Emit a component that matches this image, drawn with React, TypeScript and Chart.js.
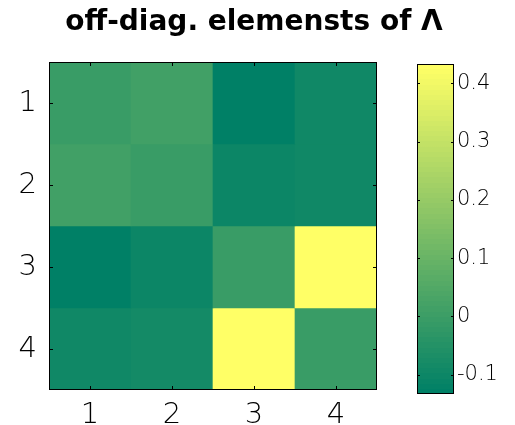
import React, { useEffect, useRef } from 'react';
import { Chart, registerables } from 'chart.js';

Chart.register(...registerables);

// ---- data ----
const titleText = 'off-diag. elemensts of Λ';
const columns = ['1', '2', '3', '4'];
const rowTicks = [1, 2, 3, 4];
const row1 = [-0.008, 0.014, -0.133, -0.095];
const row2 = [0.01, -0.003, -0.106, -0.09];
const row3 = [-0.133, -0.105, -0.003, 0.433];
const row4 = [-0.093, -0.08, 0.433, -0.006];
const rows = [row1, row2, row3, row4];
const colorbarTicks = [-0.1, 0, 0.1, 0.2, 0.3, 0.4];

const cMin = Math.min(...rows.flat());
const cMax = Math.max(...rows.flat());
const LEVELS = 64;

function summer(t: number): string {
  const r = Math.round(255 * t);
  const g = Math.round(255 * (0.5 + 0.5 * t));
  return `rgb(${r},${g},102)`;
}

function colorFor(v: number): string {
  let idx = Math.floor(((v - cMin) / (cMax - cMin)) * LEVELS);
  if (idx >= LEVELS) idx = LEVELS - 1;
  if (idx < 0) idx = 0;
  return summer(idx / (LEVELS - 1));
}

const frameTicksPlugin = {
  id: 'frameTicks',
  afterDraw(chart: any, _args: any, opts: any) {
    const { ctx, chartArea: a } = chart;
    const len = opts.len ?? 4;
    ctx.save();
    ctx.strokeStyle = '#000';
    ctx.lineWidth = 1;
    ctx.beginPath();
    if (opts.xTicks) {
      const xs = chart.scales.x;
      for (let i = 0; i < xs.ticks.length; i++) {
        const px = Math.round(xs.getPixelForTick(i)) + 0.5;
        ctx.moveTo(px, a.bottom);
        ctx.lineTo(px, a.bottom - len);
        ctx.moveTo(px, a.top);
        ctx.lineTo(px, a.top + len);
      }
    }
    const ys = chart.scales[opts.yId || 'y'];
    for (const t of ys.ticks) {
      const py = Math.round(ys.getPixelForValue(t.value)) + 0.5;
      ctx.moveTo(a.left, py);
      ctx.lineTo(a.left + len, py);
      ctx.moveTo(a.right, py);
      ctx.lineTo(a.right - len, py);
    }
    ctx.stroke();
    ctx.strokeRect(Math.round(a.left) + 0.5, Math.round(a.top) + 0.5, Math.round(a.right - a.left) - 1, Math.round(a.bottom - a.top) - 1);
    ctx.restore();
  },
};

export default function App() {
  const mainRef = useRef<HTMLCanvasElement>(null);
  const cbRef = useRef<HTMLCanvasElement>(null);

  useEffect(() => {
    const main = new Chart(mainRef.current as HTMLCanvasElement, {
      type: 'bar',
      data: {
        labels: columns,
        datasets: rows.map((row, r) => ({
          label: `row ${r + 1}`,
          data: row.map(() => [rowTicks[r] - 0.5, rowTicks[r] + 0.5]),
          backgroundColor: row.map(colorFor),
          borderWidth: 0,
          barPercentage: 1,
          categoryPercentage: 1,
          grouped: false,
        })) as any,
      },
      options: {
        responsive: false,
        maintainAspectRatio: false,
        animation: false,
        layout: { padding: { top: 62, right: 23, left: 0, bottom: 0 } },
        plugins: {
          legend: { display: false },
          tooltip: { enabled: false },
          title: { display: false },
          frameTicks: { len: 4, xTicks: true, yId: 'y' },
        } as any,
        scales: {
          x: {
            type: 'category',
            offset: true,
            grid: { display: false, drawTicks: false },
            border: { display: false },
            ticks: { color: '#000', font: { family: 'DejaVu Sans', size: 29, weight: '200' as any }, padding: 8 },
            afterFit: (s: any) => { s.height = 35; },
          },
          y: {
            type: 'linear',
            reverse: true,
            min: 0.5,
            max: 4.5,
            afterBuildTicks: (s: any) => { s.ticks = rowTicks.map((v) => ({ value: v })); },
            grid: { display: false, drawTicks: false },
            border: { display: false },
            ticks: { color: '#000', font: { family: 'DejaVu Sans', size: 29, weight: '200' as any }, padding: 12 },
            afterFit: (s: any) => { s.width = 49; },
          },
        },
      },
      plugins: [frameTicksPlugin],
    });

    const cb = new Chart(cbRef.current as HTMLCanvasElement, {
      type: 'bar',
      data: {
        labels: [''],
        datasets: [
          {
            label: 'colorbar',
            data: [[cMin, cMax]] as any,
            xAxisID: 'x',
            yAxisID: 'y',
            borderWidth: 0,
            barPercentage: 1,
            categoryPercentage: 1,
            backgroundColor: (c: any) => {
              const a = c.chart.chartArea;
              if (!a) return 'transparent';
              const g = c.chart.ctx.createLinearGradient(0, a.bottom, 0, a.top);
              for (let i = 0; i < LEVELS; i++) {
                const col = summer(i / (LEVELS - 1));
                g.addColorStop(i / LEVELS, col);
                g.addColorStop((i + 1) / LEVELS - 1e-6, col);
              }
              return g;
            },
          },
        ],
      },
      options: {
        responsive: false,
        maintainAspectRatio: false,
        animation: false,
        layout: { padding: { top: 0, right: 0, left: 0, bottom: 31 } },
        plugins: {
          legend: { display: false },
          tooltip: { enabled: false },
          title: {
            display: true,
            text: titleText,
            color: '#000',
            font: { family: 'DejaVu Sans', size: 28, weight: 'bold' },
            padding: { top: 6, bottom: 24.4 },
          },
          frameTicks: { len: 3, xTicks: false, yId: 'y' },
        } as any,
        scales: {
          x: { type: 'category', display: false, offset: true },
          pad: {
            type: 'linear',
            position: 'left',
            display: true,
            grid: { display: false, drawTicks: false },
            border: { display: false },
            ticks: { display: false },
            afterFit: (s: any) => { s.width = 417; },
          },
          y: {
            type: 'linear',
            position: 'right',
            min: cMin,
            max: cMax,
            afterBuildTicks: (s: any) => { s.ticks = colorbarTicks.map((v) => ({ value: v })); },
            grid: { display: false, drawTicks: false },
            border: { display: false },
            ticks: {
              color: '#000',
              font: { family: 'DejaVu Sans', size: 21, weight: '200' as any },
              padding: 3,
              callback: (v: any) => String(Math.round(Number(v) * 10) / 10),
            },
            afterFit: (s: any) => { s.width = 54; },
          },
        },
      },
      plugins: [frameTicksPlugin],
    });

    return () => {
      main.destroy();
      cb.destroy();
    };
  }, []);

  return (
    <div style={{ position: 'fixed', left: 0, top: 0, width: 515, height: 425, background: '#fff' }}>
      <canvas ref={mainRef} width={400} height={425} style={{ position: 'absolute', left: 0, top: 0, width: 400, height: 425 }} />
      <canvas ref={cbRef} width={508} height={425} style={{ position: 'absolute', left: 0, top: 0, width: 508, height: 425, pointerEvents: 'none' }} />
    </div>
  );
}
